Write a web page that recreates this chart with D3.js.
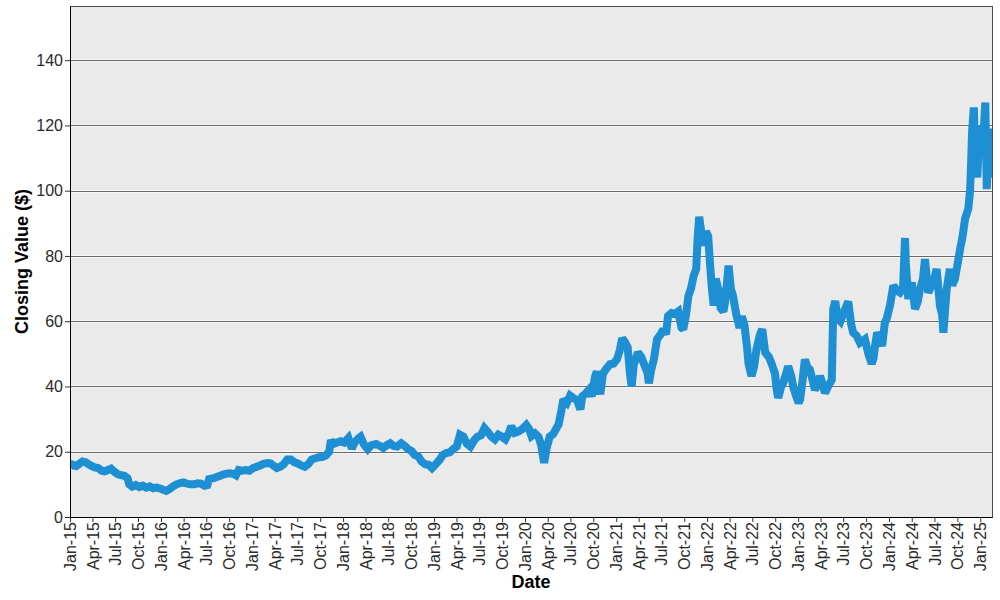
<html>
<head>
<title>Closing Value</title>
<script src="https://d3js.org/d3.v7.min.js"></script>
<style>
body { margin: 0; background: #fff; }
svg text { font-family: "Liberation Sans", Arial, sans-serif; }
</style>
</head>
<body>
<svg width="1000" height="600"></svg>
<script>

// closing prices (roughly every two weeks, plus spikes)
var dates = [
"2015-01-02","2015-01-12","2015-01-26","2015-02-09","2015-02-20","2015-03-05","2015-03-16","2015-03-30",
"2015-04-10","2015-04-24","2015-05-08","2015-05-20","2015-06-03","2015-06-15","2015-06-26","2015-07-10",
"2015-07-24","2015-08-07","2015-08-20","2015-08-27","2015-09-08","2015-09-22","2015-10-06","2015-10-20",
"2015-11-03","2015-11-17","2015-12-01","2015-12-15","2015-12-29",
"2016-01-12","2016-01-22","2016-02-05","2016-02-19","2016-03-04","2016-03-18","2016-04-01","2016-04-15",
"2016-04-29","2016-05-13","2016-05-27","2016-06-10","2016-06-24","2016-07-05","2016-07-12","2016-07-26",
"2016-08-09","2016-08-23","2016-09-06","2016-09-20","2016-10-04","2016-10-18","2016-10-28","2016-11-08",
"2016-11-22","2016-12-06","2016-12-20",
"2017-01-05","2017-01-19","2017-02-02","2017-02-16","2017-03-02","2017-03-16","2017-03-30","2017-04-10",
"2017-04-24","2017-05-08","2017-05-22","2017-06-05","2017-06-19","2017-07-03","2017-07-17","2017-07-31",
"2017-08-14","2017-08-28","2017-09-11","2017-09-25","2017-10-09","2017-10-23","2017-11-06","2017-11-13",
"2017-11-24","2017-12-08","2017-12-22",
"2018-01-05","2018-01-22","2018-02-05","2018-02-16","2018-03-02","2018-03-12","2018-03-26","2018-04-10",
"2018-04-24","2018-05-14","2018-05-29","2018-06-11","2018-06-25","2018-07-09","2018-07-23","2018-08-06",
"2018-08-22","2018-09-05","2018-09-19","2018-10-03","2018-10-15","2018-10-29","2018-11-12","2018-11-26",
"2018-12-10","2018-12-24",
"2019-01-08","2019-01-22","2019-02-05","2019-02-19","2019-03-05","2019-03-19","2019-04-02","2019-04-15",
"2019-04-29","2019-05-13","2019-05-27","2019-06-10","2019-06-24","2019-07-08","2019-07-22","2019-08-05",
"2019-08-19","2019-09-02","2019-09-16","2019-09-30","2019-10-14","2019-10-28","2019-11-07","2019-11-21",
"2019-12-05","2019-12-19",
"2020-01-06","2020-01-17","2020-01-27","2020-02-10","2020-02-24","2020-03-06","2020-03-13","2020-03-18",
"2020-03-26","2020-04-09","2020-04-23","2020-05-06","2020-05-15","2020-05-27","2020-06-03","2020-06-17",
"2020-06-30","2020-07-14","2020-07-28","2020-08-10","2020-08-18","2020-08-31","2020-09-14","2020-09-25",
"2020-10-08","2020-10-15","2020-10-29","2020-11-09","2020-11-23","2020-12-07","2020-12-21",
"2021-01-04","2021-01-15","2021-01-25","2021-02-05","2021-02-16","2021-02-25","2021-03-04","2021-03-12",
"2021-03-29","2021-04-12","2021-04-23","2021-05-07","2021-05-12","2021-05-21","2021-06-01","2021-06-14",
"2021-06-28","2021-07-09","2021-07-20","2021-07-28","2021-08-11","2021-08-24","2021-09-07","2021-09-20",
"2021-09-27","2021-10-08","2021-10-18","2021-10-28","2021-11-08","2021-11-18","2021-11-24","2021-11-30",
"2021-12-07","2021-12-16","2021-12-27",
"2022-01-05","2022-01-12","2022-01-20","2022-01-27","2022-02-04","2022-02-14","2022-02-24","2022-03-07",
"2022-03-14","2022-03-28","2022-04-06","2022-04-14","2022-04-28","2022-05-11","2022-05-20","2022-05-31",
"2022-06-10","2022-06-16","2022-06-28","2022-07-08","2022-07-18","2022-08-01","2022-08-10","2022-08-22",
"2022-09-06","2022-09-19","2022-09-30","2022-10-07","2022-10-13","2022-10-25","2022-11-02","2022-11-14",
"2022-11-22","2022-12-05","2022-12-12","2022-12-22",
"2023-01-03","2023-01-09","2023-01-19","2023-01-28","2023-02-07","2023-02-17","2023-02-28","2023-03-09",
"2023-03-20","2023-03-30","2023-04-10","2023-04-19","2023-05-01","2023-05-09","2023-05-16","2023-05-22",
"2023-05-30","2023-06-08","2023-06-20","2023-07-03","2023-07-14","2023-07-21","2023-08-02","2023-08-10",
"2023-08-24","2023-09-06","2023-09-26","2023-10-10","2023-10-23","2023-10-30","2023-11-07","2023-11-14",
"2023-11-24","2023-12-04","2023-12-15","2023-12-22",
"2024-01-05","2024-01-18","2024-02-01","2024-02-14","2024-02-26","2024-03-05","2024-03-08","2024-03-18",
"2024-04-01","2024-04-14","2024-04-25","2024-05-04","2024-05-16","2024-05-24","2024-06-06","2024-06-17",
"2024-06-27","2024-07-10","2024-07-23","2024-08-01","2024-08-06","2024-08-19","2024-09-01","2024-09-10",
"2024-09-21","2024-10-03","2024-10-12","2024-10-22","2024-11-01","2024-11-14","2024-11-21","2024-11-25",
"2024-11-29","2024-12-06","2024-12-11","2024-12-16","2024-12-20","2024-12-27",
"2025-01-03","2025-01-10","2025-01-16","2025-01-21","2025-01-27","2025-02-03","2025-02-10","2025-02-17"
];

var closes = [
15.2,16.0,15.6,16.4,17.0,16.8,16.2,15.6,
15.2,15.0,14.2,14.0,14.4,14.8,14.0,13.2,
12.8,12.6,11.9,10.0,9.3,9.8,9.2,9.6,
9.0,9.4,8.8,9.0,8.7,
8.3,8.0,8.6,9.4,10.0,10.4,10.6,10.2,
10.0,10.0,10.3,10.2,9.6,9.8,11.6,11.8,
12.2,12.6,13.0,13.3,13.4,13.2,12.8,14.4,
14.2,14.4,14.2,
15.0,15.4,15.8,16.3,16.5,16.4,15.6,15.0,
15.4,16.2,17.6,17.6,16.8,16.4,15.8,15.4,
16.2,17.6,18.0,18.3,18.4,18.8,20.0,23.5,
22.4,22.8,23.2,
22.8,24.2,21.0,22.8,24.0,24.6,22.2,20.8,
22.0,22.4,21.8,21.2,22.0,22.6,21.8,21.6,
22.6,21.8,20.8,20.2,19.0,18.6,17.0,16.2,
16.0,15.0,
16.2,17.4,19.0,19.6,19.8,20.8,21.6,25.2,
24.6,22.4,21.6,23.4,24.6,25.0,27.2,26.0,
24.6,23.8,25.2,24.6,23.8,25.8,27.8,25.8,
26.2,26.8,
28.2,27.0,24.8,25.6,24.6,22.0,18.6,16.6,
20.5,24.6,25.4,27.2,28.4,33.0,36.0,35.0,
37.2,36.4,35.8,33.0,37.0,37.8,39.0,37.0,
43.0,44.6,37.6,44.0,45.5,46.8,47.0,
48.3,51.0,54.8,53.6,52.0,44.0,40.0,46.5,
50.4,49.0,46.8,44.0,41.0,45.0,48.3,54.5,
56.0,57.5,56.0,61.6,62.5,62.2,63.0,58.0,
57.5,62.0,67.8,70.0,74.0,76.0,86.0,92.0,
88.0,83.2,87.5,
86.0,78.0,70.0,64.8,73.0,70.0,64.0,63.0,
66.0,77.0,70.0,68.0,62.0,58.0,61.5,58.6,
52.0,47.0,43.2,46.0,51.4,56.0,57.5,50.4,
49.0,46.5,44.0,39.0,36.5,40.0,41.0,44.0,
46.2,43.0,40.0,37.5,
35.0,36.0,42.0,48.3,46.0,45.2,42.0,39.0,
40.5,43.2,40.5,38.0,40.0,41.1,42.0,63.7,
66.2,61.0,60.0,62.7,64.7,66.0,59.0,56.5,
55.5,53.4,54.5,50.0,47.0,48.5,53.0,56.5,
55.0,52.4,59.6,60.6,
65.0,70.9,69.5,68.8,70.0,85.5,78.0,66.8,
71.9,63.7,66.0,69.8,73.0,79.0,68.8,70.5,
71.9,76.0,64.7,62.0,56.5,69.8,76.0,71.0,
72.9,78.0,82.1,86.0,91.4,94.5,100.0,108.0,
118.0,125.5,112.0,120.0,104.0,117.0,
120.0,112.0,120.0,127.0,100.5,114.0,119.0,104.0
];

var yTickValues = [0, 20, 40, 60, 80, 100, 120, 140];
var xStart = "2015-01-01", xEnd = "2025-02-17";

var svg = d3.select("svg");
var plotLeft = 70, plotRight = 992, plotTop = 6, plotBottom = 517;

var parseDate = d3.timeParse("%Y-%m-%d");
var data = dates.map(function (d, i) {
	return { date: parseDate(d), close: closes[i] };
});

var x = d3.scaleTime().domain([parseDate(xStart), parseDate(xEnd)]).range([plotLeft, plotRight]);
var y = d3.scaleLinear().domain([0, 156.6]).range([plotBottom, plotTop]);

// plot background
svg.append("rect")
	.attr("x", plotLeft + 0.5).attr("y", plotTop + 0.5)
	.attr("width", plotRight - plotLeft).attr("height", plotBottom - plotTop)
	.attr("fill", "#eaeaea")
	.attr("stroke", "#4a4a4a").attr("stroke-width", 1);

// horizontal grid lines
var grid = svg.append("g");
yTickValues.filter(function (v) { return v > 0; }).forEach(function (v) {
	var gy0 = Math.round(y(v)) + 0.5;
	grid.append("line")
		.attr("x1", plotLeft).attr("x2", plotRight)
		.attr("y1", gy0).attr("y2", gy0)
		.attr("stroke", "#f7f7f7").attr("stroke-width", 3);
	grid.append("line")
		.attr("x1", plotLeft).attr("x2", plotRight)
		.attr("y1", gy0).attr("y2", gy0)
		.attr("stroke", "#6a6a6a").attr("stroke-width", 1);
});

svg.append("clipPath").attr("id", "plotclip")
	.append("rect")
	.attr("x", plotLeft).attr("y", plotTop)
	.attr("width", plotRight - plotLeft).attr("height", plotBottom - plotTop);

var line = d3.line()
	.x(function (d) { return x(d.date); })
	.y(function (d) { return y(d.close); });

svg.append("path")
	.datum(data)
	.attr("clip-path", "url(#plotclip)")
	.attr("fill", "none")
	.attr("stroke", "#1e8fd2")
	.attr("stroke-width", 8)
	.attr("stroke-linejoin", "miter")
	.attr("stroke-miterlimit", 2)
	.attr("d", line);

// axes
var xTicks = d3.timeMonth.every(3).range(parseDate(xStart), parseDate("2025-01-02"));
var xAxis = d3.axisBottom(x)
	.tickValues(xTicks)
	.tickFormat(d3.timeFormat("%b-%y"))
	.tickSize(5).tickSizeOuter(0);

var gx = svg.append("g")
	.attr("transform", "translate(0," + plotBottom + ")")
	.call(xAxis);
gx.select(".domain").attr("stroke", "#000");
gx.selectAll(".tick line").attr("stroke", "#333");
gx.selectAll(".tick text")
	.attr("transform", "rotate(-90)")
	.attr("x", -5).attr("y", 0).attr("dy", "0.35em")
	.attr("text-anchor", "end")
	.attr("font-size", 16)
	.attr("fill", "#2a2a2a");

var yAxis = d3.axisLeft(y)
	.tickValues(yTickValues)
	.tickSize(5).tickSizeOuter(0);

var gy = svg.append("g")
	.attr("transform", "translate(" + plotLeft + ",0)")
	.call(yAxis);
gy.select(".domain").attr("stroke", "#000");
gy.selectAll(".tick line").attr("stroke", "#333");
gy.selectAll(".tick text")
	.attr("x", -7)
	.attr("font-size", 16)
	.attr("fill", "#2a2a2a");

// axis titles
svg.append("text")
	.attr("x", (plotLeft + plotRight) / 2).attr("y", 588)
	.attr("text-anchor", "middle")
	.attr("font-size", 18).attr("font-weight", "bold")
	.text("Date");

svg.append("text")
	.attr("transform", "translate(28," + (plotTop + plotBottom) / 2 + ") rotate(-90)")
	.attr("text-anchor", "middle")
	.attr("font-size", 18).attr("font-weight", "bold")
	.text("Closing Value ($)");

</script>
</body>
</html>
